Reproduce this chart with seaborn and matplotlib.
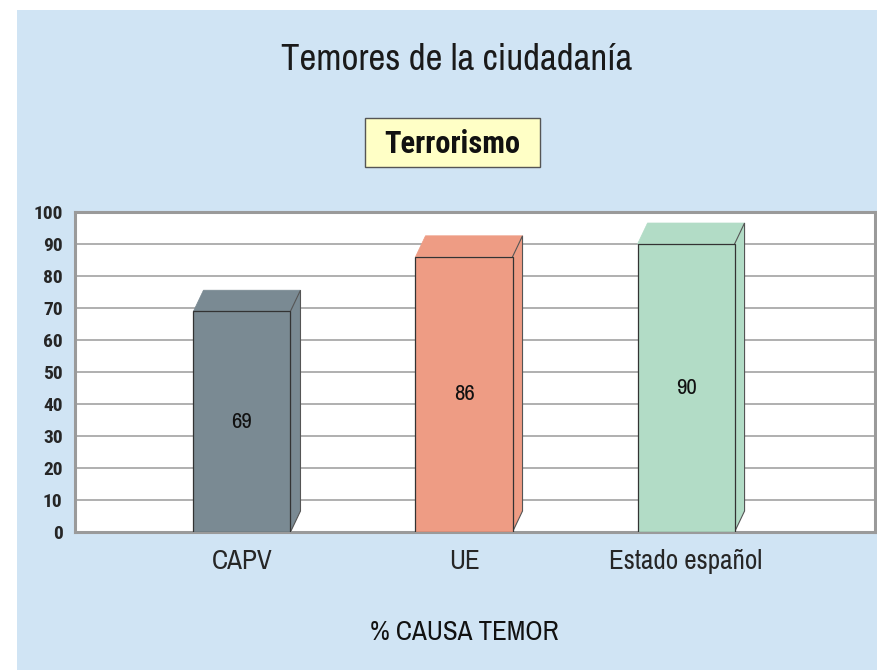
import numpy as np
import pandas as pd
import matplotlib
matplotlib.use("Agg")
import matplotlib.pyplot as plt
import matplotlib.font_manager as fm
from matplotlib.patches import Rectangle, Polygon
import seaborn as sns

# ---- data ----
categories = ["CAPV", "UE", "Estado español"]
values = [69, 86, 90]
bar_colors = ["#7a8a93", "#ee9c84", "#b2dcc6"]
y_ticks = [0, 10, 20, 30, 40, 50, 60, 70, 80, 90, 100]
title = "Temores de la ciudadanía"
subtitle = "Terrorismo"
x_title = "% CAUSA TEMOR"

# ---- fonts ----
sns.set_style("white")
WMAP = {"normal": 400, "regular": 400, "book": 400, "medium": 500, "semibold": 600,
        "demibold": 600, "bold": 700, "heavy": 800, "black": 900, "light": 300}


def _w(f):
    w = f.weight
    if isinstance(w, str):
        return WMAP.get(w.lower(), 400)
    return int(w)


def _named_cond(f):
    return "Condensed" in f.name or "Narrow" in f.name


names = sorted({f.name for f in fm.fontManager.ttflist})
REG = "Liberation Sans"
if "Liberation Sans Narrow" in names:
    REG = "Liberation Sans Narrow"
else:
    cands = [n for n in names if ("Narrow" in n or "Condensed" in n)
             and "Mono" not in n and "Serif" not in n]
    if cands:
        REG = cands[0]
reg_scale = 1.0 if REG != "Liberation Sans" else 0.84
plt.rcParams["font.family"] = [REG, "DejaVu Sans"]


def find_bold():
    hits = []
    for f in fm.fontManager.ttflist:
        if "Mono" in f.name or "Serif" in f.name or f.style != "normal":
            continue
        if _named_cond(f) and _w(f) in (700, 600, 800):
            fam = 0 if f.name == REG else (1 if "Roboto" in f.name else (2 if "Liberation" in f.name else 3))
            hits.append((fam, (700, 600, 800).index(_w(f)), f.name, f.fname))
    hits.sort()
    return hits[0][3] if hits else None


bold_file = find_bold()


def fp_reg(size):
    return fm.FontProperties(family=[REG, "DejaVu Sans"], size=size * reg_scale)


def fp_bold(size):
    if bold_file:
        return fm.FontProperties(fname=bold_file, size=size)
    return fm.FontProperties(family="Liberation Sans", weight="bold", size=size * 0.84)


W, H = 877, 670
fig = plt.figure(figsize=(W / 100, H / 100), dpi=100)
fig.patch.set_facecolor("white")
fig.add_artist(Rectangle((17 / W, 0), (W - 17) / W, (H - 10) / H, transform=fig.transFigure,
                         facecolor="#d0e4f4", edgecolor="none", zorder=0))

ax = fig.add_axes([75 / W, (H - 532) / H, 800 / W, 320 / H])
ax.set_facecolor("white")

df = pd.DataFrame({"cat": categories, "val": values})
sns.barplot(data=df, x="cat", y="val", hue="cat", palette=bar_colors, legend=False,
            width=0.437, saturation=1, edgecolor="#333333", linewidth=0.9, ax=ax)

ax.set_xlim(-0.752, 2.851)
ax.set_ylim(0, 100)
ax.set_yticks(y_ticks)
ax.set_yticklabels([str(t) for t in y_ticks])
for lbl in ax.get_yticklabels():
    lbl.set_fontproperties(fp_bold(14))
ax.set_xticks(range(len(categories)))
ax.set_xticklabels(categories)
for lbl in ax.get_xticklabels():
    lbl.set_fontproperties(fp_reg(19.5))
ax.tick_params(axis="both", length=0)
ax.tick_params(axis="y", pad=9)
ax.tick_params(axis="x", pad=12)
ax.set_xlabel("")
ax.set_ylabel("")
ax.set_axisbelow(True)
ax.yaxis.grid(True, color="#a9a9a9", linewidth=1.3)
ax.xaxis.grid(False)
for s in ax.spines.values():
    s.set_visible(True)
    s.set_color("#9a9a9a")
    s.set_linewidth(2.2)

# 3D depth offsets (in pixels) converted to data units
trans = ax.transData
inv = trans.inverted()
p0 = trans.transform((0, 0))
d = inv.transform((p0[0] + 10, p0[1] + 21))
dxd, dyd = d[0], d[1]

for p in list(ax.patches):
    x, w, h = p.get_x(), p.get_width(), p.get_height()
    c = p.get_facecolor()
    top = Polygon([(x, h), (x + w, h), (x + w + dxd, h + dyd), (x + dxd, h + dyd)],
                  closed=True, facecolor=c, edgecolor=c, linewidth=0.5, zorder=2, clip_on=False)
    side = Polygon([(x + w, 0), (x + w + dxd, dyd), (x + w + dxd, h + dyd), (x + w, h)],
                   closed=True, facecolor=c, edgecolor="#555555", linewidth=0.8, zorder=2, clip_on=False)
    ax.add_patch(top)
    ax.add_patch(side)
    p.set_zorder(3)

for i, v in enumerate(values):
    ax.text(i, v / 2, str(v), ha="center", va="center", fontproperties=fp_reg(16.5),
            color="#111111", zorder=4)

fig.text(457 / W, 1 - 60 / H, title, ha="center", va="center", fontproperties=fp_reg(26.5),
         color="#1a1a1a")
fig.add_artist(Rectangle((365 / W, 1 - 167 / H), 175 / W, 49 / H, transform=fig.transFigure,
                         facecolor="#ffffc6", edgecolor="#555555", linewidth=1.0, zorder=1))
fig.text(452 / W, 1 - 144 / H, subtitle, ha="center", va="center", fontproperties=fp_bold(22),
         color="#111111", zorder=2)
fig.text(464 / W, 1 - 633 / H, x_title, ha="center", va="center", fontproperties=fp_reg(19.5),
         color="#111111")

fig.savefig("out.png", dpi=100, facecolor=fig.get_facecolor())
